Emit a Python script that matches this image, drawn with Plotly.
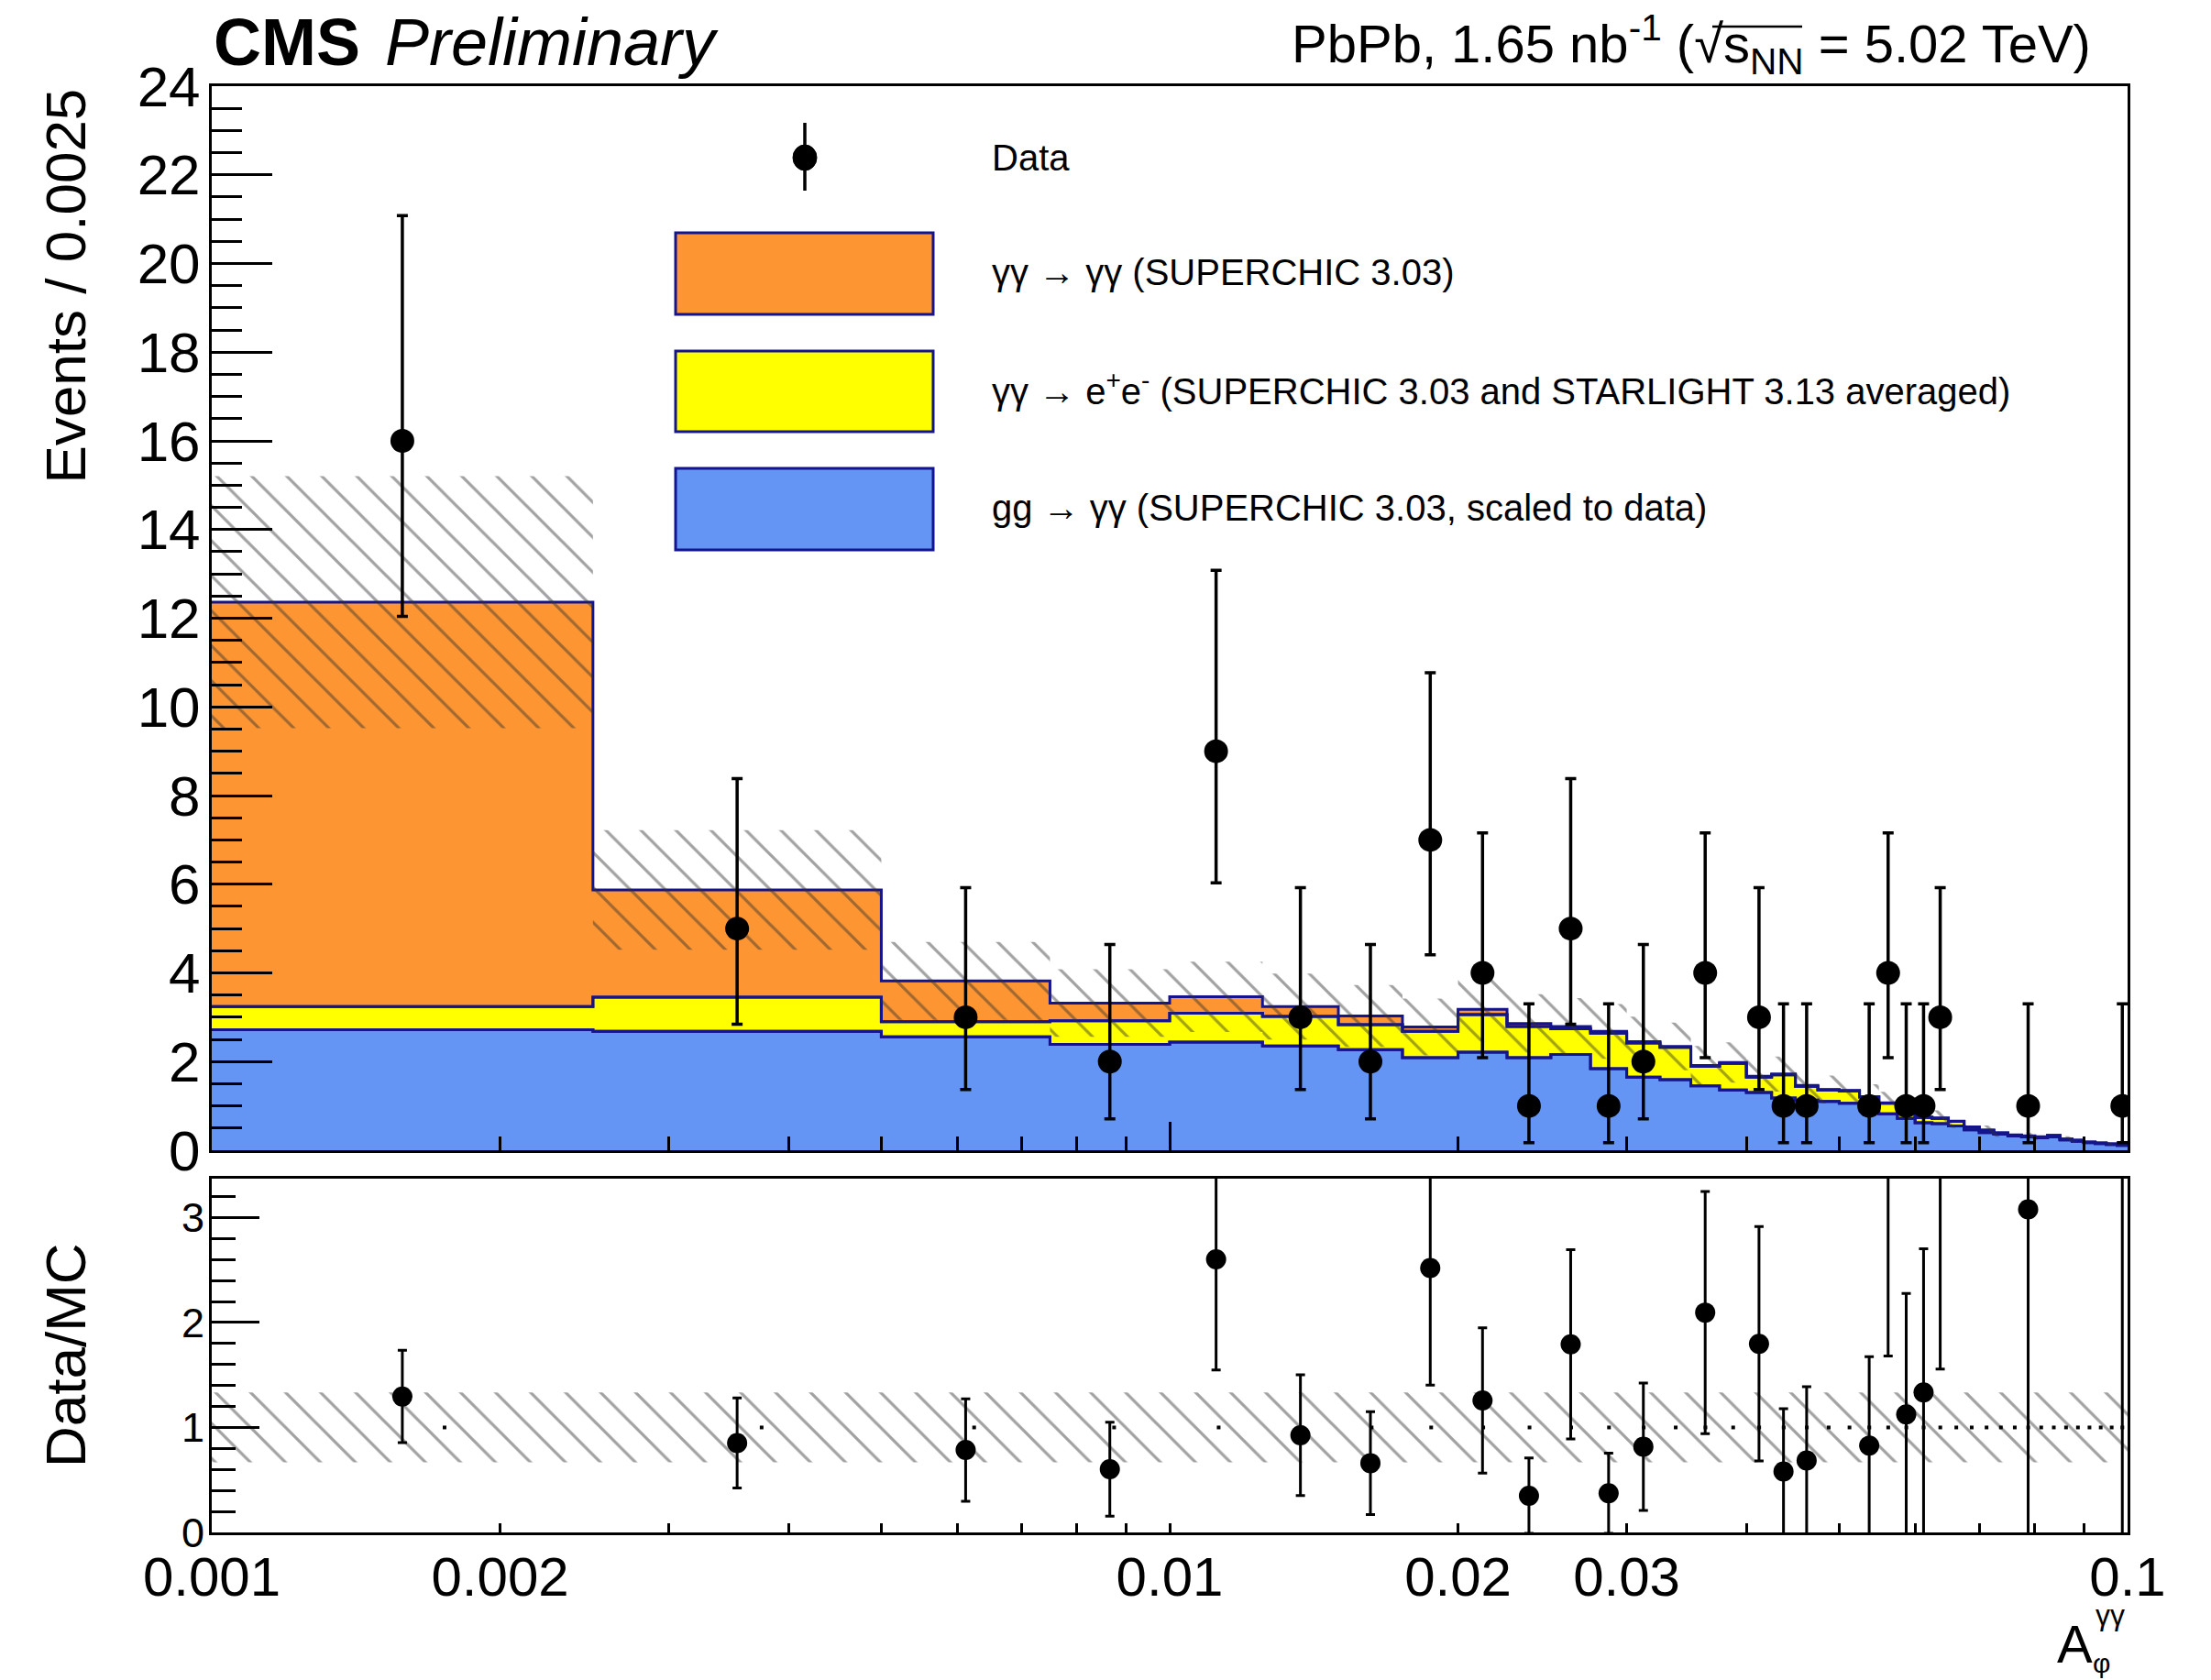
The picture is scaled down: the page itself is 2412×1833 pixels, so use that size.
import math
import plotly.graph_objects as go

# ---------------- data ----------------
bin_edges = [0.001, 0.0025, 0.005, 0.0075, 0.01, 0.0125, 0.015, 0.0175, 0.02, 0.0225,
             0.025, 0.0275, 0.03, 0.0325, 0.035, 0.0375, 0.04, 0.0425, 0.045, 0.0475,
             0.05, 0.0525, 0.055, 0.0575, 0.06, 0.0625, 0.065, 0.0675, 0.07, 0.0725,
             0.075, 0.0775, 0.08, 0.0825, 0.085, 0.0875, 0.09, 0.0925, 0.095, 0.0975, 0.1]

# gg -> gamma gamma (blue)
gg_gg = [2.72, 2.68, 2.56, 2.39, 2.44, 2.35, 2.27, 2.09, 2.21, 2.09,
         2.16, 1.84, 1.65, 1.59, 1.45, 1.36, 1.30, 1.18, 1.13, 1.10,
         1.06, 0.98, 0.82, 0.72, 0.62, 0.60, 0.55, 0.46, 0.40, 0.36,
         0.32, 0.30, 0.28, 0.30, 0.23, 0.20, 0.17, 0.15, 0.13, 0.11]
# gamma gamma -> e+e- (yellow)
gam_ee = [0.52, 0.77, 0.34, 0.53, 0.65, 0.67, 0.56, 0.59, 0.85, 0.70,
          0.58, 0.80, 0.77, 0.73, 0.44, 0.60, 0.35, 0.52, 0.31, 0.26,
          0.28, 0.22, 0.24, 0.16, 0.12, 0.12, 0.10, 0.06, 0.05, 0.03,
          0.02, 0.02, 0.02, 0.03, 0.02, 0.02, 0.01, 0.01, 0.01, 0.01]
# gamma gamma -> gamma gamma (orange)
gam_gam = [9.12, 2.42, 0.92, 0.40, 0.37, 0.22, 0.20, 0.10, 0.12, 0.07,
           0.05, 0.04, 0.03, 0.02, 0.02, 0.02, 0.02, 0.02, 0.02, 0.01,
           0.01, 0.01, 0.01, 0.01, 0.01, 0.01, 0.005, 0.005, 0.005, 0.005,
           0.005, 0.005, 0.005, 0.005, 0.005, 0.005, 0.005, 0.005, 0.005, 0.005]

data_events = [16, 5, 3, 2, 9, 3, 2, 7, 4, 1,
               5, 1, 2, 0, 4, 0, 3, 1, 1, 0,
               0, 1, 4, 1, 1, 3, 0, 0, 0, 0,
               0, 1, 0, 0, 0, 0, 0, 0, 0, 1]

# Poisson (Garwood) interval edges for the observed counts
poisson_lo = {1: 0.17, 2: 0.71, 3: 1.37, 4: 2.09, 5: 2.84, 7: 4.41, 9: 6.03, 16: 12.04}
poisson_hi = {1: 3.30, 2: 4.64, 3: 5.92, 4: 7.16, 5: 8.38, 7: 10.77, 9: 13.08, 16: 21.08}

mc_rel_unc = 0.23          # hatched MC uncertainty band (main panel)
ratio_band_half = 0.333    # hatched band half-width in ratio panel

x_tick_vals = [0.001, 0.002, 0.003, 0.004, 0.005, 0.006, 0.007, 0.008, 0.009,
               0.01, 0.02, 0.03, 0.04, 0.05, 0.06, 0.07, 0.08, 0.09, 0.1]
x_tick_labels = {0.001: "0.001", 0.002: "0.002", 0.01: "0.01", 0.02: "0.02", 0.03: "0.03", 0.1: "0.1"}

legend_labels = ["Data",
                 "γγ → γγ (SUPERCHIC 3.03)",
                 "γγ → e<sup>+</sup>e<sup>-</sup> (SUPERCHIC 3.03 and STARLIGHT 3.13 averaged)",
                 "gg → γγ (SUPERCHIC 3.03, scaled to data)"]

# ---------------- styles ----------------
FONT = "Liberation Sans, Arial, sans-serif"
BLUE = "#6495F5"
YELLOW = "#FFFF00"
ORANGE = "#FD9632"
NAVY = "#14148C"
HATCH = "rgba(45,45,45,0.9)"

W, H = 2412, 1833
ML, MR, MT, MB = 231, 91, 94, 161
PW, PH = W - ML - MR, H - MT - MB


def px(x):
    return (x - ML) / PW


def py(y):
    return (H - MB - y) / PH


main_dom = [py(1255), 1.0]
ratio_dom = [0.0, py(1286)]

# ---------------- derived ----------------
nb = len(gg_gg)
cum_blue = gg_gg[:]
cum_yel = [gg_gg[i] + gam_ee[i] for i in range(nb)]
total = [cum_yel[i] + gam_gam[i] for i in range(nb)]


def step(v):
    return list(v) + [v[-1]]


centers = [math.sqrt(bin_edges[i] * bin_edges[i + 1]) for i in range(nb)]
lin_centers = [0.5 * (bin_edges[i] + bin_edges[i + 1]) for i in range(nb)]
sel = [i for i in range(nb) if data_events[i] > 0]
dx = [centers[i] for i in sel]
dy = [data_events[i] for i in sel]
d_up = [poisson_hi[data_events[i]] - data_events[i] for i in sel]
d_dn = [data_events[i] - poisson_lo[data_events[i]] for i in sel]

ratio = [data_events[i] / total[i] for i in sel]
ratio_err = [ratio[k] * math.sqrt(1.0 / dy[k] + mc_rel_unc ** 2) for k in range(len(sel))]

fig = go.Figure()

# stacked histograms
fig.add_trace(go.Scatter(x=bin_edges, y=step(cum_blue), mode="lines",
                         line=dict(shape="hv", color=NAVY, width=3),
                         fill="tozeroy", fillcolor=BLUE, hoverinfo="skip", showlegend=False))
fig.add_trace(go.Scatter(x=bin_edges, y=step(cum_yel), mode="lines",
                         line=dict(shape="hv", color=NAVY, width=3),
                         fill="tonexty", fillcolor=YELLOW, hoverinfo="skip", showlegend=False))
fig.add_trace(go.Scatter(x=bin_edges, y=step(total), mode="lines",
                         line=dict(shape="hv", color=NAVY, width=3),
                         fill="tonexty", fillcolor=ORANGE, hoverinfo="skip", showlegend=False))
fig.add_trace(go.Scatter(x=bin_edges, y=step(cum_blue), mode="lines",
                         line=dict(shape="hv", color=NAVY, width=3), hoverinfo="skip", showlegend=False))
fig.add_trace(go.Scatter(x=bin_edges, y=step(cum_yel), mode="lines",
                         line=dict(shape="hv", color=NAVY, width=3), hoverinfo="skip", showlegend=False))

# hatched MC uncertainty
band_lo = [t * (1 - mc_rel_unc) for t in total]
band_hi = [t * (1 + mc_rel_unc) for t in total]
pattern = dict(shape="\\", fgcolor=HATCH, bgcolor="rgba(0,0,0,0)", size=27, solidity=0.12, fillmode="overlay")
fig.add_trace(go.Scatter(x=bin_edges, y=step(band_lo), mode="lines",
                         line=dict(shape="hv", width=0, color="rgba(0,0,0,0)"),
                         hoverinfo="skip", showlegend=False))
fig.add_trace(go.Scatter(x=bin_edges, y=step(band_hi), mode="lines",
                         line=dict(shape="hv", width=0, color="rgba(0,0,0,0)"),
                         fill="tonexty", fillcolor="rgba(0,0,0,0)", fillpattern=pattern,
                         hoverinfo="skip", showlegend=False))

# data
fig.add_trace(go.Scatter(x=dx, y=dy, mode="markers",
                         marker=dict(color="black", size=26),
                         error_y=dict(type="data", symmetric=False, array=d_up, arrayminus=d_dn,
                                      color="black", thickness=3.5, width=6),
                         hoverinfo="skip", showlegend=False))

# ratio panel: band
rb_lo = [1 - ratio_band_half] * (nb + 1)
rb_hi = [1 + ratio_band_half] * (nb + 1)
fig.add_trace(go.Scatter(x=bin_edges, y=rb_lo, mode="lines", xaxis="x2", yaxis="y2",
                         line=dict(width=0, color="rgba(0,0,0,0)"), hoverinfo="skip", showlegend=False))
fig.add_trace(go.Scatter(x=bin_edges, y=rb_hi, mode="lines", xaxis="x2", yaxis="y2",
                         line=dict(width=0, color="rgba(0,0,0,0)"),
                         fill="tonexty", fillcolor="rgba(0,0,0,0)", fillpattern=pattern,
                         hoverinfo="skip", showlegend=False))
# MC/MC = 1 dots
fig.add_trace(go.Scatter(x=lin_centers, y=[1.0] * nb, mode="markers", xaxis="x2", yaxis="y2",
                         marker=dict(color="black", size=4, symbol="square"),
                         hoverinfo="skip", showlegend=False))
# ratio points
fig.add_trace(go.Scatter(x=dx, y=ratio, mode="markers", xaxis="x2", yaxis="y2",
                         marker=dict(color="black", size=22),
                         error_y=dict(type="data", array=ratio_err, color="black", thickness=3, width=5),
                         hoverinfo="skip", showlegend=False))

major_x = [0.001, 0.01, 0.1]
minor_x = [v for v in x_tick_vals if v not in major_x]

axis_common = dict(showline=True, linecolor="black", linewidth=3, mirror=True,
                   ticks="inside", tickcolor="black", showgrid=False, zeroline=False)

fig.update_layout(
    width=W, height=H, autosize=False,
    margin=dict(l=ML, r=MR, t=MT, b=MB),
    paper_bgcolor="white", plot_bgcolor="white",
    font=dict(family=FONT, color="black"),
    showlegend=False,
    xaxis=dict(type="log", range=[-3, -1], domain=[0, 1], anchor="y",
               tickvals=major_x, ticklen=31, tickwidth=2.5, showticklabels=False,
               minor=dict(tickvals=minor_x, ticklen=15, tickwidth=2.5, ticks="inside",
                          tickcolor="black", showgrid=False),
               **axis_common),
    yaxis=dict(domain=main_dom, range=[0, 24], anchor="x", tick0=0, dtick=2,
               ticklen=66, tickwidth=2.5, tickfont=dict(size=62),
               minor=dict(dtick=0.5, ticklen=33, tickwidth=2.5, ticks="inside",
                          tickcolor="black", showgrid=False),
               ticklabelstandoff=-3,
               **axis_common),
    xaxis2=dict(type="log", range=[-3, -1], domain=[0, 1], anchor="y2", matches="x",
                tickvals=x_tick_vals,
                ticktext=[x_tick_labels.get(v, "") for v in x_tick_vals],
                ticklen=10, tickwidth=2.5, tickfont=dict(size=60), ticklabelstandoff=-6,
                **axis_common),
    yaxis2=dict(domain=ratio_dom, range=[0, 3.37], anchor="x2", tick0=0, dtick=1,
                ticklen=52, tickwidth=2.5, tickfont=dict(size=45),
                minor=dict(dtick=0.2, ticklen=26, tickwidth=2.5, ticks="inside",
                           tickcolor="black", showgrid=False),
                ticklabelstandoff=-4,
                **axis_common),
)

ann = []
# header
ann.append(dict(text="<b>CMS</b>", x=px(231), y=py(88), xref="paper", yref="paper",
                xanchor="left", yanchor="bottom", showarrow=False, font=dict(size=72)))
ann.append(dict(text="<i>Preliminary</i>", x=px(418), y=py(88), xref="paper", yref="paper",
                xanchor="left", yanchor="bottom", showarrow=False, font=dict(size=72)))
ann.append(dict(text="PbPb, 1.65 nb<sup>-1</sup> (√s<sub>NN</sub> = 5.02 TeV)", x=px(2283), y=py(92),
                xref="paper", yref="paper", xanchor="right", yanchor="bottom", showarrow=False,
                font=dict(size=58)))
# axis titles
ann.append(dict(text="Events / 0.0025", x=px(71), y=py(95), xref="paper", yref="paper",
                xanchor="center", yanchor="top", textangle=-90, showarrow=False, font=dict(size=62)))
ann.append(dict(text="Data/MC", x=px(71), y=py(1479), xref="paper", yref="paper",
                xanchor="center", yanchor="middle", textangle=-90, showarrow=False, font=dict(size=62)))
ann.append(dict(text="A", x=px(2285), y=py(1793), xref="paper", yref="paper",
                xanchor="right", yanchor="middle", showarrow=False, font=dict(size=58)))
ann.append(dict(text="γγ", x=px(2284), y=py(1762), xref="paper", yref="paper",
                xanchor="left", yanchor="middle", showarrow=False, font=dict(size=32)))
ann.append(dict(text="φ", x=px(2281), y=py(1814), xref="paper", yref="paper",
                xanchor="left", yanchor="middle", showarrow=False, font=dict(size=30)))

# legend
leg_text_x = px(1080)
leg_y = [172, 297, 424, 554]
for lab, yy in zip(legend_labels, leg_y):
    ann.append(dict(text=lab, x=leg_text_x, y=py(yy), xref="paper", yref="paper",
                    xanchor="left", yanchor="middle", showarrow=False, font=dict(size=40)))

shapes = []
box_cols = [ORANGE, YELLOW, BLUE]
box_y = [(254, 343), (383, 471), (511, 600)]
for col, (y0, y1) in zip(box_cols, box_y):
    shapes.append(dict(type="rect", xref="paper", yref="paper", x0=px(737), x1=px(1018),
                       y0=py(y1), y1=py(y0), fillcolor=col, line=dict(color=NAVY, width=3)))
shapes.append(dict(type="line", xref="paper", yref="paper", x0=px(878), x1=px(878),
                   y0=py(208), y1=py(134), line=dict(color="black", width=3.5)))
shapes.append(dict(type="circle", xref="paper", yref="paper", x0=px(865), x1=px(891),
                   y0=py(186), y1=py(158), fillcolor="black", line=dict(color="black", width=1)))
# square-root vinculum over s_NN in the header
shapes.append(dict(type="line", xref="paper", yref="paper", x0=px(1868), x1=px(1966),
                   y0=py(29), y1=py(29), line=dict(color="black", width=2.5)))

fig.update_layout(annotations=ann, shapes=shapes)
fig.write_html("out.html")
